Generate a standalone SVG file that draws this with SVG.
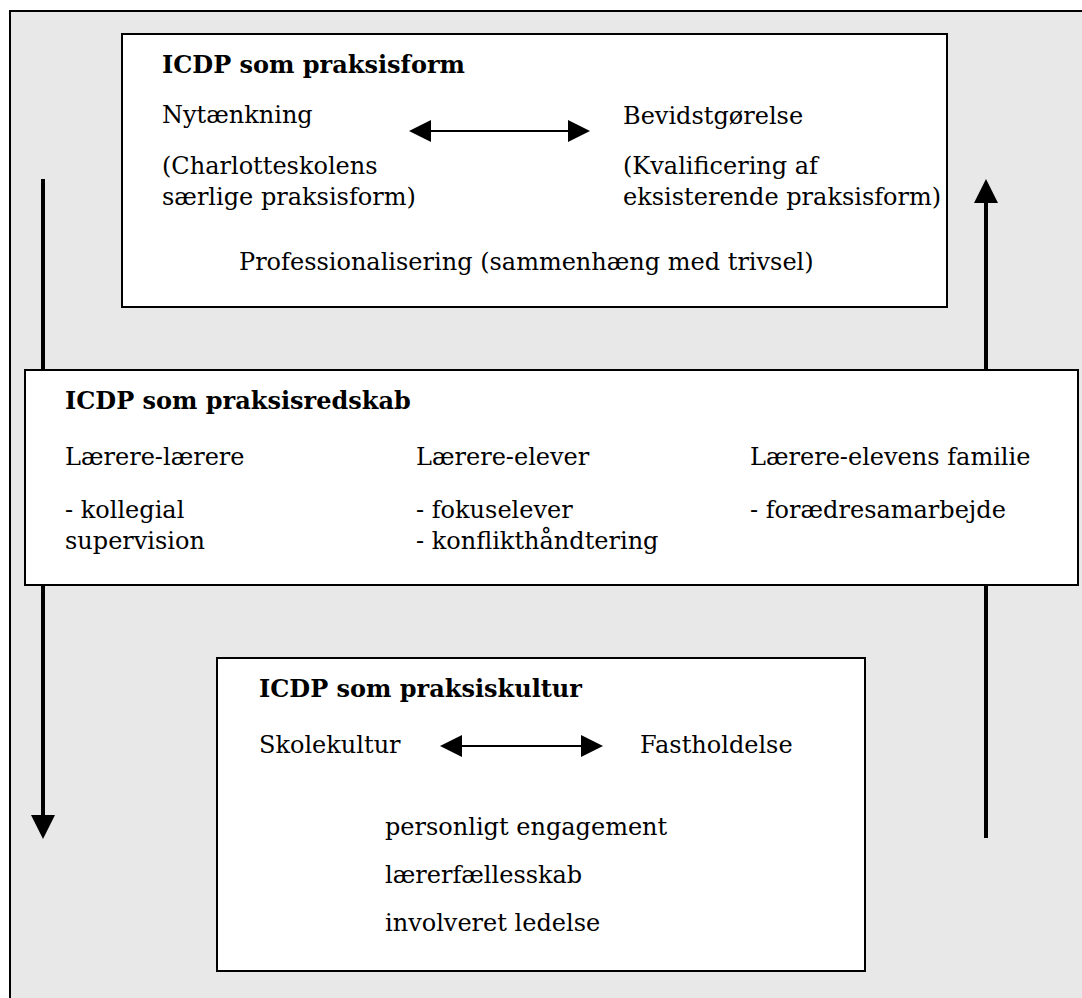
<svg xmlns="http://www.w3.org/2000/svg" width="1082" height="998" viewBox="0 0 1082 998">
<style>
.frame{fill:#e8e8e8;stroke:#000;stroke-width:2}
.box{fill:#fff;stroke:#000;stroke-width:2}
text{font-family:"DejaVu Serif","Liberation Serif",serif;font-size:24px;fill:#000}
.t{font-weight:bold}
.big{stroke:#000;stroke-width:4;fill:none}
.dbl{stroke:#000;stroke-width:2;fill:none}
</style>
<defs>
<marker id="hb" markerUnits="userSpaceOnUse" markerWidth="24" markerHeight="24" viewBox="0 0 24 24" refX="0" refY="12" orient="auto"><path d="M0,0 L24,12 L0,24 z" fill="#000"/></marker>
<marker id="hs" markerUnits="userSpaceOnUse" markerWidth="22" markerHeight="22" viewBox="0 0 22 22" refX="0" refY="11" orient="auto-start-reverse"><path d="M0,0 L22,11 L0,22 z" fill="#000"/></marker>
</defs>
<rect class="frame" x="10" y="11" width="1100" height="1100"/>
<g id="node-praksisform">
<rect class="box" x="122" y="34" width="825" height="273"/>
<text class="t" x="162" y="73">ICDP som praksisform</text>
<text x="162" y="123">Nytænkning</text>
<text x="623" y="124">Bevidstgørelse</text>
<text x="162" y="174">(Charlotteskolens</text>
<text x="162" y="205">særlige praksisform)</text>
<text x="623" y="174">(Kvalificering af</text>
<text x="623" y="205">eksisterende praksisform)</text>
<text x="239" y="270">Professionalisering (sammenhæng med trivsel)</text>
</g>
<g id="node-praksisredskab">
<rect class="box" x="25" y="370" width="1053" height="215"/>
<text class="t" x="65" y="409">ICDP som praksisredskab</text>
<text x="65" y="465">Lærere-lærere</text>
<text x="416" y="465">Lærere-elever</text>
<text x="750" y="465">Lærere-elevens familie</text>
<text x="65" y="518">- kollegial</text>
<text x="65" y="549">supervision</text>
<text x="416" y="518">- fokuselever</text>
<text x="416" y="549">- konflikthåndtering</text>
<text x="750" y="518">- forædresamarbejde</text>
</g>
<g id="node-praksiskultur">
<rect class="box" x="217" y="658" width="648" height="313"/>
<text class="t" x="259" y="697">ICDP som praksiskultur</text>
<text x="259" y="753">Skolekultur</text>
<text x="640" y="753">Fastholdelse</text>
<text x="385" y="835">personligt engagement</text>
<text x="385" y="883">lærerfællesskab</text>
<text x="385" y="931">involveret ledelse</text>
</g>
<g id="connectors">
<line class="big" x1="43" y1="179" x2="43" y2="370"/>
<line class="big" x1="43" y1="585" x2="43" y2="815" marker-end="url(#hb)"/>
<line class="big" x1="986" y1="838" x2="986" y2="585"/>
<line class="big" x1="986" y1="370" x2="986" y2="203" marker-end="url(#hb)"/>
<line class="dbl" x1="431" y1="131" x2="568" y2="131" marker-start="url(#hs)" marker-end="url(#hs)"/>
<line class="dbl" x1="462" y1="746" x2="581" y2="746" marker-start="url(#hs)" marker-end="url(#hs)"/>
</g>
</svg>
